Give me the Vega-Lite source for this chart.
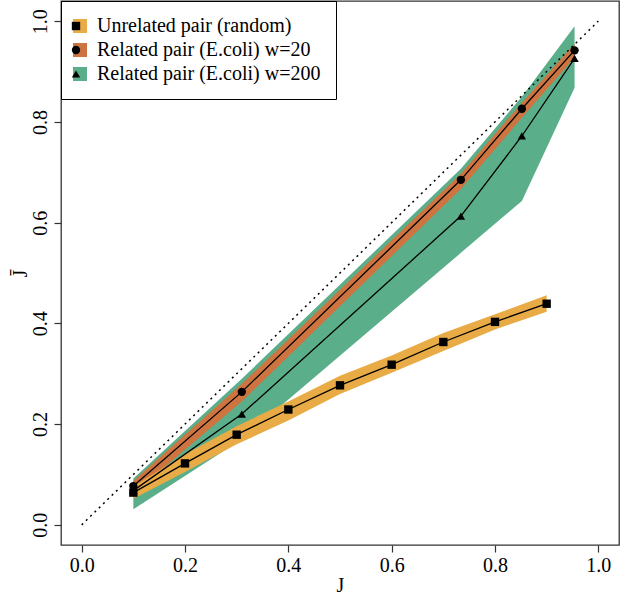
{
  "$schema": "https://vega.github.io/schema/vega-lite/v6.json",
  "autosize": "none",
  "width": 558,
  "height": 544,
  "padding": {"left": 61, "top": 1, "right": 1, "bottom": 52},
  "background": "white",
  "config": {
    "view": {"stroke": "#333333", "strokeWidth": 1.3},
    "font": "Liberation Serif",
    "axis": {"labelFont": "Liberation Serif", "titleFont": "Liberation Serif", "labelFontSize": 20, "titleFontSize": 20, "labelColor": "black", "titleColor": "black", "titleFontWeight": "normal", "grid": false, "domain": false, "tickColor": "#333333", "tickSize": 7, "tickWidth": 1.2}
  },
  "datasets": {
    "bands": [
      {"series": "Unrelated pair (random)", "x": 0.1, "y": 0.064, "lo": 0.052, "hi": 0.076},
      {"series": "Unrelated pair (random)", "x": 0.2, "y": 0.122, "lo": 0.105, "hi": 0.140},
      {"series": "Unrelated pair (random)", "x": 0.3, "y": 0.179, "lo": 0.160, "hi": 0.196},
      {"series": "Unrelated pair (random)", "x": 0.4, "y": 0.229, "lo": 0.207, "hi": 0.245},
      {"series": "Unrelated pair (random)", "x": 0.5, "y": 0.277, "lo": 0.260, "hi": 0.296},
      {"series": "Unrelated pair (random)", "x": 0.6, "y": 0.318, "lo": 0.302, "hi": 0.336},
      {"series": "Unrelated pair (random)", "x": 0.7, "y": 0.363, "lo": 0.345, "hi": 0.381},
      {"series": "Unrelated pair (random)", "x": 0.8, "y": 0.403, "lo": 0.388, "hi": 0.418},
      {"series": "Unrelated pair (random)", "x": 0.9, "y": 0.439, "lo": 0.423, "hi": 0.456},
      {"series": "Related pair (E.coli) w=20", "x": 0.1, "y": 0.077, "lo": 0.062, "hi": 0.087},
      {"series": "Related pair (E.coli) w=20", "x": 0.31, "y": 0.264, "lo": 0.245, "hi": 0.280},
      {"series": "Related pair (E.coli) w=20", "x": 0.734, "y": 0.685, "lo": 0.667, "hi": 0.697},
      {"series": "Related pair (E.coli) w=20", "x": 0.852, "y": 0.826, "lo": 0.808, "hi": 0.838},
      {"series": "Related pair (E.coli) w=20", "x": 0.954, "y": 0.942, "lo": 0.928, "hi": 0.955},
      {"series": "Related pair (E.coli) w=200", "x": 0.1, "y": 0.068, "lo": 0.031, "hi": 0.092},
      {"series": "Related pair (E.coli) w=200", "x": 0.31, "y": 0.220, "lo": 0.170, "hi": 0.290},
      {"series": "Related pair (E.coli) w=200", "x": 0.734, "y": 0.613, "lo": 0.540, "hi": 0.707},
      {"series": "Related pair (E.coli) w=200", "x": 0.852, "y": 0.772, "lo": 0.643, "hi": 0.850},
      {"series": "Related pair (E.coli) w=200", "x": 0.954, "y": 0.926, "lo": 0.868, "hi": 0.990}
    ],
    "diag": [
      {"x": 0, "y": 0, "x2": 1, "y2": 1}
    ]
  },
  "data": {"name": "bands"},
  "encoding": {
    "x": {"field": "x", "type": "quantitative", "scale": {"domain": [-0.04, 1.04], "nice": false, "zero": false},
      "axis": {"values": [0, 0.2, 0.4, 0.6, 0.8, 1.0], "format": ".1f", "title": "J", "labelPadding": 3, "titlePadding": 0}}
  },
  "layer": [
    {
      "transform": [{"filter": "datum.series === 'Related pair (E.coli) w=200'"}],
      "mark": {"type": "area", "opacity": 1},
      "encoding": {
        "y": {"field": "lo", "type": "quantitative", "scale": {"domain": [-0.04, 1.04], "nice": false, "zero": false},
          "axis": {"values": [0, 0.2, 0.4, 0.6, 0.8, 1.0], "format": ".1f", "title": "J̄", "labelAngle": -90, "labelAlign": "center", "labelBaseline": "bottom", "labelPadding": 4, "titlePadding": 0}},
        "y2": {"field": "hi"},
        "color": {"field": "series", "type": "nominal",
          "scale": {"domain": ["Unrelated pair (random)", "Related pair (E.coli) w=20", "Related pair (E.coli) w=200"], "range": ["#E8AB45", "#CE7440", "#5BAE8A"]},
          "legend": {"orient": "top-left", "offset": 0, "title": null, "padding": 15, "rowPadding": 4, "strokeColor": "black", "symbolType": "square", "symbolSize": 196, "symbolStrokeWidth": 0, "symbolOpacity": 1, "symbolOffset": -6, "labelOffset": 7, "labelFont": "Liberation Serif", "labelFontSize": 20, "labelColor": "black", "labelLimit": 400, "zindex": 1}}
      }
    },
    {
      "transform": [{"filter": "datum.series === 'Related pair (E.coli) w=20'"}],
      "mark": {"type": "area", "opacity": 1},
      "encoding": {
        "y": {"field": "lo", "type": "quantitative"},
        "y2": {"field": "hi"},
        "color": {"field": "series", "type": "nominal"}
      }
    },
    {
      "transform": [{"filter": "datum.series === 'Unrelated pair (random)'"}],
      "mark": {"type": "area", "opacity": 1},
      "encoding": {
        "y": {"field": "lo", "type": "quantitative"},
        "y2": {"field": "hi"},
        "color": {"field": "series", "type": "nominal"}
      }
    },
    {
      "data": {"name": "diag"},
      "mark": {"type": "rule", "color": "black", "strokeWidth": 1.5, "strokeDash": [2, 4]},
      "encoding": {
        "x": {"field": "x", "type": "quantitative"},
        "y": {"field": "y", "type": "quantitative"},
        "x2": {"field": "x2"},
        "y2": {"field": "y2"}
      }
    },
    {
      "mark": {"type": "line", "color": "black", "strokeWidth": 1.3},
      "encoding": {
        "y": {"field": "y", "type": "quantitative"},
        "detail": {"field": "series"}
      }
    },
    {
      "mark": {"type": "point", "filled": true, "color": "black", "opacity": 1, "size": 70},
      "encoding": {
        "y": {"field": "y", "type": "quantitative"},
        "shape": {"field": "series", "type": "nominal",
          "scale": {"domain": ["Unrelated pair (random)", "Related pair (E.coli) w=20", "Related pair (E.coli) w=200"], "range": ["square", "circle", "triangle-up"]},
          "legend": {"orient": "none", "legendX": 0, "legendY": 0, "title": null, "padding": 15, "rowPadding": 4, "symbolSize": 70, "symbolFillColor": "black", "symbolStrokeColor": "black", "symbolStrokeWidth": 0, "symbolOpacity": 1, "symbolOffset": -10, "labelOffset": 7, "labelExpr": "''", "labelFont": "Liberation Serif", "labelFontSize": 20, "labelLimit": 400, "zindex": 2}}
      }
    }
  ]
}
